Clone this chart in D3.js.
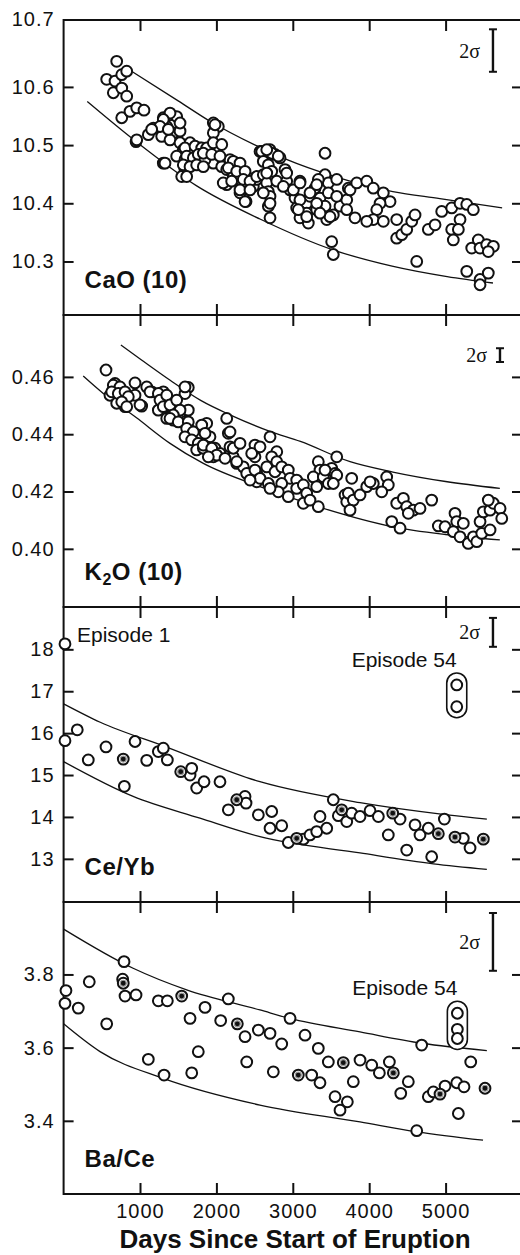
<!DOCTYPE html>
<html lang="en">
<head>
<meta charset="utf-8">
<script src="https://cdn.jsdelivr.net/npm/d3@7"></script>
<style>
  body { margin: 0; background: #fff; }
  svg text { font-family: "Liberation Sans", Arial, sans-serif; fill: #111; }
</style>
</head>
<body>
<svg id="plot" width="520" height="1255"></svg>
<script>
// ---------- data (days since start of eruption, value) ----------
const dayDomain = [0, 5987];
const dayTicks = [1000, 2000, 3000, 4000, 5000];

const caoTicks = [10.3, 10.4, 10.5, 10.6];
const caoTopLabel = 10.7;
const k2oTicks = [0.40, 0.42, 0.44, 0.46];
const ceybTicks = [13, 14, 15, 16, 17, 18];
const baceTicks = [3.4, 3.6, 3.8];

const caoPoints = [
  [695,10.644],[564,10.613],[673,10.610],[761,10.621],[826,10.627],[651,10.590],[761,10.598],[826,10.584],
  [761,10.547],[869,10.558],[957,10.564],[1052,10.560],[948,10.506],[1109,10.518],[1174,10.529],[1305,10.469],
  [1305,10.547],[1393,10.552],[1480,10.549],[1350,10.532],[1436,10.521],[1524,10.524],[1284,10.515],[1393,10.509],
  [1524,10.504],[1567,10.492],[1480,10.481],[1589,10.475],[1589,10.458],[1546,10.446],[1677,10.486],[1742,10.475],
  [1785,10.495],[1829,10.469],[1873,10.481],[1960,10.538],[2025,10.532],[1960,10.521],[1939,10.498],[2004,10.489],
  [2047,10.475],[1960,10.469],[2070,10.463],[2135,10.458],[2178,10.475],[2266,10.469],[2309,10.458],[2221,10.446],
  [2135,10.432],[2309,10.441],[2397,10.446],[2397,10.429],[2309,10.418],[2388,10.403],[2483,10.429],[2528,10.441],
  [2571,10.489],[1393,10.555],[1305,10.544],[1524,10.538],[1262,10.532],[1371,10.527],[1153,10.527],[1655,10.504],
  [1589,10.495],[1720,10.498],[1808,10.495],[1611,10.481],[1698,10.478],[1763,10.484],[1851,10.475],[1567,10.466],
  [1655,10.463],[1742,10.466],[1829,10.463],[1611,10.446],[1327,10.469],[957,10.509],[1982,10.535],[1873,10.495],
  [1960,10.504],[2070,10.501],[1829,10.486],[1939,10.484],[2047,10.481],[2221,10.472],[2309,10.469],[2156,10.461],
  [2266,10.455],[2375,10.455],[2090,10.435],[2200,10.438],[2352,10.441],[2440,10.438],[2309,10.423],[2440,10.423],
  [2375,10.403],[2593,10.489],[2702,10.492],[2767,10.484],[2833,10.478],[2614,10.472],[2680,10.466],[2528,10.446],
  [2614,10.449],[2724,10.455],[2898,10.458],[2659,10.435],[2790,10.438],[2680,10.420],[2702,10.412],[2680,10.395],
  [2702,10.375],[2920,10.438],[2964,10.423],[3094,10.438],[3029,10.409],[3094,10.403],[3051,10.392],[3182,10.400],
  [3225,10.412],[3182,10.383],[3094,10.375],[3203,10.366],[3291,10.426],[3422,10.449],[3465,10.435],[3575,10.441],
  [3334,10.441],[3356,10.409],[3465,10.418],[3422,10.395],[3313,10.389],[3444,10.372],[3530,10.380],[3618,10.395],
  [3706,10.406],[3575,10.412],[3727,10.426],[3422,10.486],[3509,10.334],[3530,10.312],[2724,10.486],[2810,10.481],
  [3749,10.423],[3837,10.435],[3968,10.438],[4054,10.426],[4185,10.418],[4273,10.403],[4142,10.400],[4099,10.389],
  [4054,10.372],[3968,10.369],[4185,10.369],[3814,10.375],[3706,10.389],[3487,10.377],[4360,10.372],[4360,10.340],
  [4426,10.346],[4491,10.355],[4557,10.369],[4600,10.380],[4622,10.300],[4774,10.355],[4862,10.363],[4949,10.386],
  [5080,10.392],[5189,10.400],[5277,10.398],[5363,10.389],[5189,10.372],[5080,10.355],[5167,10.355],[5101,10.337],
  [5342,10.323],[5428,10.337],[5451,10.323],[5538,10.329],[5625,10.326],[5559,10.317],[5277,10.283],[5451,10.269],
  [5559,10.280],[5451,10.260],[2659,10.452],[2614,10.418],[2702,10.400],[2920,10.452],[2876,10.429],[3007,10.423],
  [3094,10.406],[3072,10.389],[3182,10.377],[3094,10.435],[3225,10.418],[3313,10.432],[3313,10.400],[3356,10.383],
  [2659,10.492]
];
const caoUpper = [[900,10.626],[1500,10.576],[1916,10.541],[2570,10.496],[2925,10.475],[3500,10.448],[4310,10.420],[4925,10.408],[5740,10.392]];
const caoLower = [[310,10.575],[950,10.506],[1742,10.430],[2570,10.373],[3525,10.320],[4300,10.292],[5020,10.274],[5620,10.263]];

const k2oPoints = [
  [555,0.4624],[607,0.4536],[673,0.4577],[716,0.4560],[781,0.4525],[804,0.4496],[695,0.4508],[935,0.4579],
  [935,0.4536],[1022,0.4498],[1088,0.4565],[1153,0.4548],[1305,0.4548],[1305,0.4525],[1240,0.4484],[1350,0.4496],
  [1436,0.4513],[1458,0.4484],[1350,0.4455],[1436,0.4449],[1524,0.4473],[1632,0.4563],[1589,0.4542],[1632,0.4484],
  [1589,0.4443],[1655,0.4414],[1698,0.4385],[1785,0.4403],[1873,0.4438],[1916,0.4391],[1873,0.4356],[1982,0.4351],
  [2047,0.4333],[1960,0.4321],[2135,0.4455],[2156,0.4403],[2178,0.4356],[2221,0.4321],[2266,0.4298],[2352,0.4286],
  [2397,0.4263],[2505,0.4362],[2505,0.4321],[2528,0.4263],[2528,0.4234],[651,0.4571],[738,0.4565],[630,0.4548],
  [716,0.4542],[804,0.4548],[847,0.4531],[761,0.4513],[826,0.4496],[1000,0.4502],[1131,0.4548],[1240,0.4542],
  [1262,0.4519],[1350,0.4536],[1305,0.4496],[1393,0.4502],[1480,0.4519],[1589,0.4565],[1524,0.4484],[1436,0.4467],
  [1393,0.4455],[1501,0.4443],[1632,0.4443],[1611,0.4420],[1698,0.4408],[1589,0.4391],[1677,0.4380],[1763,0.4368],
  [1742,0.4345],[1829,0.4351],[1808,0.4432],[2178,0.4408],[1851,0.4403],[1829,0.4362],[1939,0.4351],[2004,0.4327],
  [1894,0.4321],[2113,0.4316],[2221,0.4351],[2309,0.4368],[2266,0.4304],[2462,0.4333],[2505,0.4275],[2571,0.4246],
  [2440,0.4240],[2680,0.4228],[2702,0.4391],[2790,0.4339],[2724,0.4321],[2790,0.4304],[2659,0.4286],[2767,0.4269],
  [2855,0.4286],[2941,0.4275],[2964,0.4246],[2855,0.4228],[2810,0.4199],[2702,0.4211],[3051,0.4240],[3051,0.4211],
  [2941,0.4182],[3138,0.4223],[3182,0.4194],[3138,0.4159],[3334,0.4304],[3356,0.4275],[3269,0.4251],[3400,0.4251],
  [3509,0.4281],[3575,0.4321],[3553,0.4263],[3465,0.4228],[3313,0.4217],[3334,0.4147],[3225,0.4170],[3684,0.4188],
  [3706,0.4164],[2571,0.4356],[3422,0.4275],[3575,0.4257],[3530,0.4228],[3771,0.4246],[3727,0.4194],[3792,0.4170],
  [3749,0.4135],[3880,0.4188],[3968,0.4217],[4054,0.4228],[4011,0.4234],[4229,0.4251],[4250,0.4223],[4164,0.4199],
  [4295,0.4095],[4404,0.4072],[4360,0.4159],[4447,0.4176],[4491,0.4147],[4578,0.4135],[4665,0.4141],[4818,0.4170],
  [4512,0.4124],[4905,0.4080],[4993,0.4077],[5123,0.4124],[5146,0.4095],[5232,0.4089],[5101,0.4060],[5189,0.4042],
  [5297,0.4019],[5363,0.4042],[5408,0.4025],[5473,0.4054],[5451,0.4095],[5582,0.4066],[5494,0.4129],[5582,0.4135],
  [5625,0.4159],[5713,0.4141],[5559,0.4170],[5735,0.4106]
];
const k2oUpper = [[750,0.4711],[1020,0.4659],[1390,0.4589],[1800,0.4517],[2200,0.4465],[2700,0.4410],[3100,0.4375],[3750,0.4304],[4310,0.4268],[5000,0.4235],[5710,0.4211]];
const k2oLower = [[257,0.4603],[520,0.4542],[950,0.4458],[1393,0.4368],[1829,0.4298],[2571,0.4217],[3380,0.4143],[4310,0.4077],[5000,0.4050],[5710,0.4031]];

const ceybEpisode1 = [18, 18.13];
const ceybOpen = [
  [18,15.82],[179,16.08],[323,15.36],[555,15.67],[795,14.73],[935,15.80],[1088,15.35],[1240,15.56],
  [1305,15.64],[1358,15.36],[1655,15.00],[1677,15.16],[1742,14.69],[1838,14.84],[2047,14.84],[2156,14.17],
  [2375,14.49],[2388,14.33],[2549,14.05],[2724,14.13],[2702,13.73],[2855,13.79],[2941,13.39],[3138,13.47],
  [3225,13.57],[3313,13.65],[3444,13.73],[3356,14.01],[3530,14.41],[3596,14.03],[3706,13.89],[3771,14.09],
  [3880,14.01],[4011,14.15],[4120,14.01],[4250,13.57],[4404,13.95],[4491,13.21],[4600,13.81],[4665,13.57],
  [4774,13.73],[4818,13.05],[4984,13.95],[5232,13.49],[5320,13.26]
];
const ceybFilled = [[781,15.38],[1533,15.08],[2266,14.41],[3051,13.49],[3640,14.17],[4308,14.09],[4905,13.60],[5123,13.52],[5494,13.47]];
const ceybEpisode54 = [[5146,17.15],[5146,16.63]];
const ceybUpper = [[0,16.70],[480,16.26],[1330,15.68],[2570,14.84],[3880,14.34],[5020,14.05],[5540,13.95]];
const ceybLower = [[0,15.32],[910,14.49],[1785,13.97],[2570,13.53],[3880,13.14],[4840,12.88],[5540,12.75]];

const baceOpen = [
  [31,3.756],[18,3.721],[192,3.708],[336,3.780],[564,3.665],[791,3.835],[773,3.787],[804,3.741],
  [948,3.744],[1109,3.568],[1240,3.728],[1358,3.728],[1315,3.525],[1655,3.680],[1677,3.531],[1763,3.589],
  [1851,3.710],[2056,3.674],[2156,3.733],[2375,3.630],[2397,3.561],[2549,3.648],[2702,3.639],[2855,3.610],
  [2745,3.534],[2964,3.680],[3160,3.634],[3247,3.525],[3334,3.598],[3356,3.504],[3465,3.561],[3553,3.466],
  [3618,3.429],[3714,3.452],[3792,3.507],[3880,3.566],[4033,3.552],[4133,3.531],[4264,3.561],[4413,3.475],
  [4512,3.507],[4622,3.373],[4687,3.607],[4774,3.466],[4840,3.479],[4993,3.495],[5146,3.504],[5241,3.493],
  [5167,3.420],[5329,3.561]
];
const baceFilled = [[781,3.776],[1546,3.741],[2274,3.665],[3072,3.525],[3661,3.559],[4316,3.531],[4927,3.473],[5516,3.489]];
const baceEpisode54 = [[5154,3.694],[5154,3.650],[5154,3.625]];
const baceUpper = [[0,3.924],[910,3.817],[1611,3.758],[2570,3.703],[2960,3.680],[3880,3.643],[4690,3.612],[5540,3.592]];
const baceLower = [[0,3.665],[477,3.589],[1303,3.516],[2570,3.443],[3880,3.397],[4625,3.370],[5490,3.347]];

// 2 sigma error bars: x position (days) and [low, high]
const sigmaX = [5620, 5712, 5620, 5620];
const sigmaBars = [[10.626, 10.699], [0.4652, 0.4700], [18.06, 18.75], [3.810, 3.968]];

// ---------- layout ----------
const svg = d3.select("#plot");
const left = 63.6, right = 521;
const x = d3.scaleLinear().domain(dayDomain).range([left, right]);

const panels = [
  { top: 20,  bottom: 315,  domain: [10.208, 10.715], ticks: caoTicks,  fmt: ".1f", open: caoPoints, filled: [], upper: caoUpper,  lower: caoLower,  label: "CaO (10)" },
  { top: 315, bottom: 607,  domain: [0.3797, 0.4816], ticks: k2oTicks,  fmt: ".2f", open: k2oPoints, filled: [], upper: k2oUpper,  lower: k2oLower,  label: "K2O" },
  { top: 607, bottom: 902,  domain: [11.97, 19.01],   ticks: ceybTicks, fmt: "d",   open: ceybOpen,  filled: ceybFilled, upper: ceybUpper, lower: ceybLower, label: "Ce/Yb", ep54: ceybEpisode54, ep1: ceybEpisode1 },
  { top: 902, bottom: 1194, domain: [3.2, 3.998],     ticks: baceTicks, fmt: ".1f", open: baceOpen,  filled: baceFilled, upper: baceUpper, lower: baceLower, label: "Ba/Ce", ep54: baceEpisode54 }
];

const R = 5.4;
const SW = 2;

function styleAxis(g) {
  g.select(".domain").remove();
  g.selectAll("line").attr("stroke", "#111").attr("stroke-width", 2);
  g.selectAll("text")
    .style("font-family", "'Liberation Sans', Arial, sans-serif")
    .style("font-size", "20px")
    .style("letter-spacing", "1px")
    .attr("fill", "#111");
}

panels.forEach((p, i) => {
  const y = d3.scaleLinear().domain(p.domain).range([p.bottom, p.top]);
  const g = svg.append("g");

  // frame
  g.append("rect")
    .attr("x", left).attr("y", p.top)
    .attr("width", right - left).attr("height", p.bottom - p.top)
    .attr("fill", "none").attr("stroke", "#111").attr("stroke-width", 2);

  // y axes (inward ticks)
  g.append("g").attr("transform", `translate(${left},0)`)
    .call(d3.axisLeft(y).tickValues(p.ticks).tickSizeInner(-10).tickSizeOuter(0)
      .tickPadding(9).tickFormat(d3.format(p.fmt)))
    .call(styleAxis);
  g.append("g").attr("transform", `translate(${right},0)`)
    .call(d3.axisRight(y).tickValues(p.ticks).tickSizeInner(-9).tickSizeOuter(0).tickFormat(""))
    .call(styleAxis);

  // x ticks top and bottom
  g.append("g").attr("transform", `translate(0,${p.top})`)
    .call(d3.axisBottom(x).tickValues(dayTicks).tickSizeInner(11).tickSizeOuter(0).tickFormat(""))
    .call(styleAxis);
  if (i < panels.length - 1) {
    g.append("g").attr("transform", `translate(0,${p.bottom})`)
      .call(d3.axisTop(x).tickValues(dayTicks).tickSizeInner(11).tickSizeOuter(0).tickFormat(""))
      .call(styleAxis);
  } else {
    g.append("g").attr("transform", `translate(0,${p.bottom})`)
      .call(d3.axisBottom(x).tickValues(dayTicks).tickSizeInner(-11).tickSizeOuter(0)
        .tickPadding(10).tickFormat(d3.format("d")))
      .call(styleAxis);
  }

  // envelope curves
  const line = d3.line().x(d => x(d[0])).y(d => y(d[1])).curve(d3.curveMonotoneX);
  [p.upper, p.lower].forEach(c => {
    g.append("path").attr("d", line(c))
      .attr("fill", "none").attr("stroke", "#111").attr("stroke-width", 1.3);
  });

  // open circles
  g.selectAll(".pt").data(p.open).enter().append("circle")
    .attr("cx", d => x(d[0])).attr("cy", d => y(d[1])).attr("r", R)
    .attr("fill", "#fff").attr("stroke", "#111").attr("stroke-width", SW);

  // circles with dark centres
  const f = g.selectAll(".fp").data(p.filled).enter().append("g");
  f.append("circle")
    .attr("cx", d => x(d[0])).attr("cy", d => y(d[1])).attr("r", R)
    .attr("fill", "#fff").attr("stroke", "#111").attr("stroke-width", SW);
  f.append("circle")
    .attr("cx", d => x(d[0])).attr("cy", d => y(d[1])).attr("r", 3)
    .attr("fill", "#111").attr("stroke", "#999").attr("stroke-width", 1.2);

  // Episode 1
  if (p.ep1) {
    g.append("circle").attr("cx", x(p.ep1[0])).attr("cy", y(p.ep1[1])).attr("r", R)
      .attr("fill", "#fff").attr("stroke", "#111").attr("stroke-width", SW);
    g.append("text").attr("x", x(p.ep1[0]) + 12).attr("y", y(p.ep1[1]) - 2)
      .style("font-size", "21px").text("Episode 1");
  }

  // Episode 54 group with capsule
  if (p.ep54) {
    const cx = x(p.ep54[0][0]);
    const ys = p.ep54.map(d => y(d[1]));
    const yTop = d3.min(ys), yBot = d3.max(ys);
    g.append("rect")
      .attr("x", cx - 10).attr("y", yTop - 12)
      .attr("width", 20).attr("height", yBot - yTop + 23).attr("rx", 10)
      .attr("fill", "#fff").attr("stroke", "#111").attr("stroke-width", 1.6);
    g.selectAll(".ep").data(p.ep54).enter().append("circle")
      .attr("cx", d => x(d[0])).attr("cy", d => y(d[1])).attr("r", R)
      .attr("fill", "#fff").attr("stroke", "#111").attr("stroke-width", SW);
    g.append("text").attr("x", cx).attr("y", yTop - 18)
      .attr("text-anchor", "end").style("font-size", "21px").text("Episode 54");
  }

  // 2 sigma bar
  const sx = x(sigmaX[i]);
  const s0 = y(sigmaBars[i][0]), s1 = y(sigmaBars[i][1]);
  g.append("line").attr("x1", sx).attr("x2", sx).attr("y1", s0).attr("y2", s1)
    .attr("stroke", "#111").attr("stroke-width", 2.4);
  [s0, s1].forEach(v => g.append("line").attr("x1", sx - 4).attr("x2", sx + 4)
    .attr("y1", v).attr("y2", v).attr("stroke", "#111").attr("stroke-width", 2));
  g.append("text").attr("x", sx - 13).attr("y", (s0 + s1) / 2 + 7)
    .attr("text-anchor", "end")
    .style("font-family", "'Liberation Serif', 'Times New Roman', serif")
    .style("font-size", "20px").text("2σ");

  // panel label
  const lab = g.append("text").attr("x", left + 21).attr("y", p.bottom - 27)
    .style("font-size", "24px").style("font-weight", "bold").style("letter-spacing", "0.5px");
  if (p.label === "K2O") {
    lab.append("tspan").text("K");
    lab.append("tspan").attr("dy", 5).style("font-size", "16px").text("2");
    lab.append("tspan").attr("dy", -5).text("O (10)");
  } else {
    lab.text(p.label);
  }
});

// top label of CaO axis sits on the frame edge
svg.append("text").attr("x", left - 9).attr("y", panels[0].top).attr("dy", "0.32em")
  .attr("text-anchor", "end").style("font-size", "20px").style("letter-spacing", "1px")
  .text(d3.format(".1f")(caoTopLabel));

// x axis title
svg.append("text").attr("x", 295).attr("y", 1248)
  .attr("text-anchor", "middle")
  .style("font-size", "26px").style("font-weight", "bold")
  .text("Days Since Start of Eruption");
</script>
</body>
</html>
